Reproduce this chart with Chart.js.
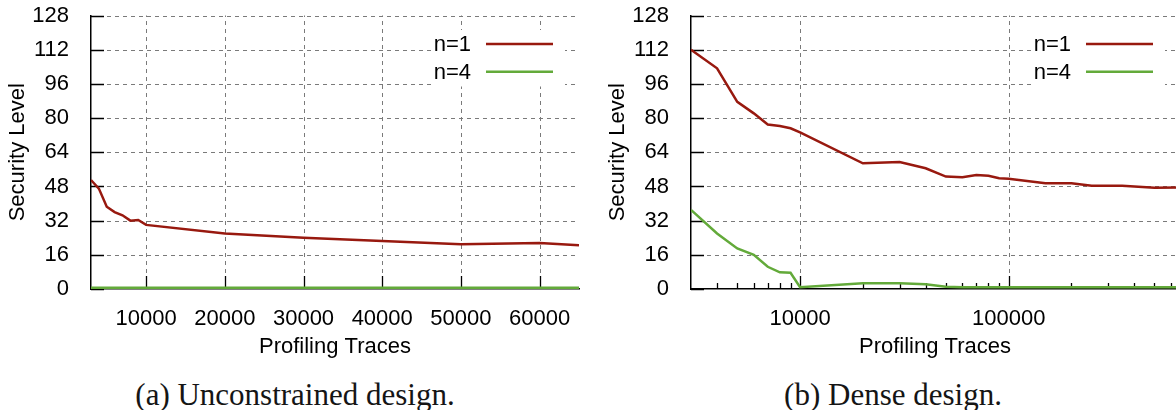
<!DOCTYPE html>
<html>
<head>
<meta charset="utf-8">
<script src="https://cdn.jsdelivr.net/npm/chart.js@4.4.1/dist/chart.umd.min.js"></script>
<style>
  html, body { margin: 0; padding: 0; background: #fff; overflow: hidden; width: 1176px; height: 410px; }
  .panel { position: absolute; top: 0; width: 590px; height: 368px; }
  #panelA { left: 0; }
  #panelB { left: 600px; }
  .caption { position: absolute; top: 379px; font-family: "Liberation Serif", serif; font-size: 31px;
             line-height: 31px; white-space: nowrap; transform: translateX(-50%); color: #151515; }
</style>
</head>
<body>
<div class="panel" id="panelA"><canvas id="chartA"></canvas></div>
<div class="panel" id="panelB"><canvas id="chartB"></canvas></div>
<div class="caption" style="left:295px">(a) Unconstrained design.</div>
<div class="caption" style="left:893px">(b) Dense design.</div>
<script>
// (a) unconstrained design, linear trace axis
var tracesA = [3000, 4000, 5000, 6000, 7000, 8000, 9000, 10000, 20000, 30000, 40000, 50000, 60000, 65000];
var levelA1 = [51, 47, 38.5, 36, 34.5, 32, 32.3, 30, 26, 24, 22.5, 21, 21.5, 20.5];
var levelA4 = [0.6, 0.6, 0.6, 0.6, 0.6, 0.6, 0.6, 0.6, 0.6, 0.6, 0.6, 0.6, 0.6, 0.6];
var xTicksA = [10000, 20000, 30000, 40000, 50000, 60000];

// (b) dense design, log trace axis
var tracesB = [3000, 4000, 5000, 6000, 7000, 8000, 9000, 10000, 20000, 30000, 40000, 50000, 60000,
               70000, 80000, 90000, 100000, 150000, 200000, 250000, 350000, 500000, 650000];
var levelB1 = [112, 103.3, 87.6, 82.2, 77, 76.3, 75.2, 73.3, 58.8, 59.4, 56.5, 52.6, 52.3,
               53.3, 53, 51.8, 51.6, 49.5, 49.5, 48.3, 48.3, 47.4, 47.5];
var levelB4 = [37, 26, 19, 16, 10.4, 7.8, 7.6, 0.8, 2.7, 2.7, 2.2, 1, 0.8,
               0.8, 0.8, 0.8, 0.8, 0.8, 0.8, 0.8, 0.8, 0.8, 0.8];
var xTicksB = [10000, 100000];
var xMinorB = [4000, 5000, 6000, 7000, 8000, 9000, 20000, 30000, 40000, 50000, 60000, 70000, 80000, 90000,
               200000, 300000, 400000, 500000, 600000];

var seriesNames = ["n=1", "n=4"];
var seriesColors = ["#98190f", "#63aa3a"];

Chart.defaults.font.family = "'Liberation Sans', Arial, sans-serif";
Chart.defaults.font.size = 22;
Chart.defaults.color = "#000";

// gnuplot style: dashed grid, ticks pointing into the plot, key at top right with text before the sample
var gnuplotLook = {
  id: "gnuplotLook",
  beforeDatasetsDraw: function (chart, args, opts) {
    var ctx = chart.ctx, area = chart.chartArea;
    var x = chart.scales.x, y = chart.scales.y;
    ctx.save();

    // grid
    ctx.strokeStyle = "#7a7a7a";
    ctx.lineWidth = 1;
    ctx.setLineDash([4, 4]);
    ctx.beginPath();
    y.ticks.forEach(function (t) {
      if (t.value === 0) return;
      var py = Math.round(y.getPixelForValue(t.value)) + 0.5;
      ctx.moveTo(area.left, py);
      ctx.lineTo(area.right, py);
    });
    x.ticks.forEach(function (t) {
      var px = Math.round(x.getPixelForValue(t.value)) + 0.5;
      ctx.moveTo(px, area.bottom);
      ctx.lineTo(px, area.top);
    });
    ctx.stroke();
    ctx.setLineDash([]);

    // tick marks
    ctx.strokeStyle = "#000";
    ctx.lineWidth = 1.3;
    ctx.beginPath();
    y.ticks.forEach(function (t) {
      var py = Math.round(y.getPixelForValue(t.value)) + 0.5;
      ctx.moveTo(area.left, py);
      ctx.lineTo(area.left + 13, py);
    });
    x.ticks.forEach(function (t) {
      var px = Math.round(x.getPixelForValue(t.value)) + 0.5;
      ctx.moveTo(px, area.bottom);
      ctx.lineTo(px, area.bottom - 13);
    });
    (opts.minor || []).forEach(function (v) {
      var px = Math.round(x.getPixelForValue(v)) + 0.5;
      if (px > area.left && px < area.right) {
        ctx.moveTo(px, area.bottom);
        ctx.lineTo(px, area.bottom - 6);
      }
    });
    ctx.stroke();

    // key
    ctx.fillStyle = "#fff";
    ctx.fillRect(area.right - 148, area.top + 14.5, 134, 56.5);
    ctx.font = "22px 'Liberation Sans', Arial, sans-serif";
    ctx.textAlign = "right";
    ctx.textBaseline = "middle";
    chart.data.datasets.forEach(function (ds, i) {
      var ry = area.top + 28.5 + i * 27.7;
      ctx.fillStyle = "#000";
      ctx.fillText(ds.label, area.right - 108, ry + 1);
      ctx.strokeStyle = ds.borderColor;
      ctx.lineWidth = 2.5;
      ctx.beginPath();
      ctx.moveTo(area.right - 93, ry);
      ctx.lineTo(area.right - 26, ry);
      ctx.stroke();
    });
    ctx.restore();
  }
};

function makeChart(id, traces, n1, n4, xScale, minor) {
  return new Chart(document.getElementById(id), {
    type: "line",
    data: {
      datasets: [
        { label: seriesNames[0], data: traces.map(function (t, i) { return { x: t, y: n1[i] }; }),
          borderColor: seriesColors[0], borderWidth: 2.5, pointRadius: 0, tension: 0 },
        { label: seriesNames[1], data: traces.map(function (t, i) { return { x: t, y: n4[i] }; }),
          borderColor: seriesColors[1], borderWidth: 2.5, pointRadius: 0, tension: 0 }
      ]
    },
    options: {
      responsive: true,
      maintainAspectRatio: false,
      animation: false,
      layout: { padding: { top: 15.5, right: 11, left: 0, bottom: 0 } },
      plugins: { legend: { display: false }, tooltip: { enabled: false }, gnuplotLook: { minor: minor } },
      scales: {
        x: xScale,
        y: {
          min: 0, max: 128,
          ticks: { stepSize: 16, padding: 14 },
          grid: { display: false },
          border: { display: true, color: "#000", width: 1.5 },
          title: { display: true, text: "Security Level", padding: { top: 5, bottom: 0 } },
          afterFit: function (s) {
            s.width = 91;
            s.paddingTop = 0;
            s.paddingBottom = 0;
          }
        }
      }
    },
    plugins: [gnuplotLook]
  });
}

function xAxis(type, min, max, tickValues) {
  return {
    type: type, min: min, max: max,
    afterBuildTicks: function (s) { s.ticks = tickValues.map(function (v) { return { value: v }; }); },
    ticks: { padding: 9, maxRotation: 0, autoSkip: false, callback: function (v) { return String(v); } },
    grid: { display: false },
    border: { display: true, color: "#000", width: 1.5 },
    title: { display: true, text: "Profiling Traces", padding: { top: 0, bottom: 8 } },
    afterFit: function (s) {
      s.height = 79;
      s.paddingLeft = 0;
      s.paddingRight = 0;
    }
  };
}

makeChart("chartA", tracesA, levelA1, levelA4, xAxis("linear", 3000, 65000, xTicksA), []);
makeChart("chartB", tracesB, levelB1, levelB4, xAxis("logarithmic", 3000, 655360, xTicksB), xMinorB);
</script>
</body>
</html>
